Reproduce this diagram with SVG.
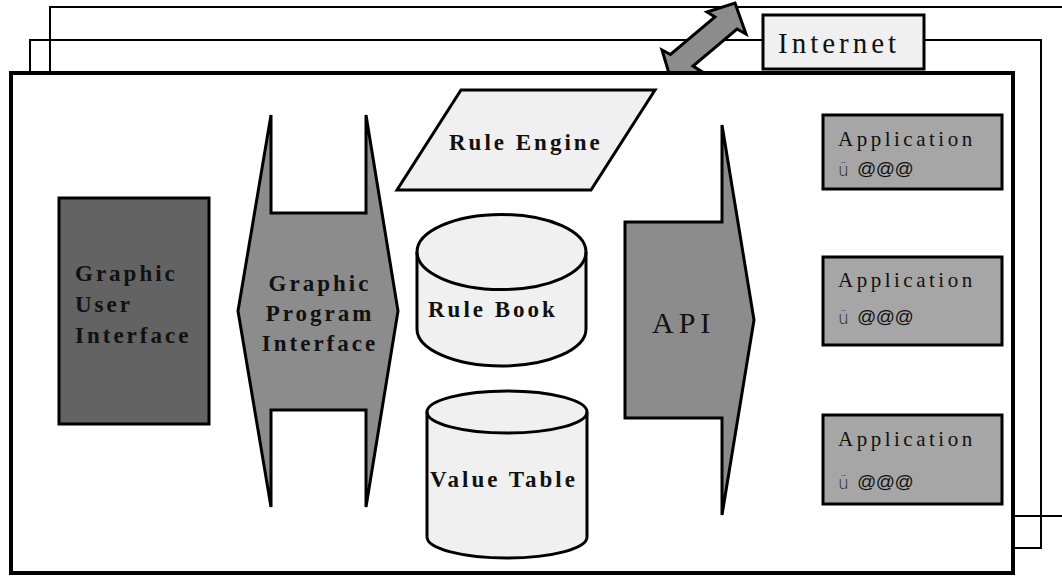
<svg xmlns="http://www.w3.org/2000/svg" width="1062" height="577" viewBox="0 0 1062 577">
<style>
.frame{fill:none;stroke:#000;stroke-width:2}
.front{fill:#fff;stroke:#000;stroke-width:4}
.dark{fill:#636363;stroke:#000;stroke-width:3}
.mid{fill:#8c8c8c;stroke:#000;stroke-width:3;stroke-linejoin:miter}
.light{fill:#f0f0f0;stroke:#000;stroke-width:3}
.app{fill:#a6a6a6;stroke:#000;stroke-width:3}
.b{font-family:"Liberation Serif","Times New Roman",serif;font-weight:bold;font-size:23px;letter-spacing:3px;fill:#111}
.r{font-family:"Liberation Serif","Times New Roman",serif;fill:#111}
.u{font-family:"DejaVu Sans","Liberation Sans",sans-serif;font-size:17px;font-weight:200;fill:#222}
.sym{font-family:"Liberation Sans",Arial,sans-serif;font-size:19px;letter-spacing:-0.5px;fill:#111}
</style>
<g id="frames">
<polyline class="frame" points="1062,7 50,7 50,516 1062,516"/>
<rect class="frame" x="30" y="40" width="1011" height="508"/>
</g>
<g id="internet-link">
<polygon class="mid" stroke-width="2" points="735,3 746,34 737,29 693,66 701,71 671,80 662,50 670.5,54.5 715,17 707,12"/>
</g>
<g id="internet">
<rect class="light" x="763" y="15" width="161" height="54"/>
<text class="r" x="778" y="53" font-size="29" letter-spacing="4">Internet</text>
</g>
<g id="system">
<rect class="front" x="11" y="73" width="1002" height="500"/>
</g>
<g id="gui">
<rect class="dark" x="59" y="198" width="150" height="226"/>
<text class="b" x="75" y="281">Graphic</text>
<text class="b" x="75" y="312">User</text>
<text class="b" x="75" y="343">Interface</text>
</g>
<g id="gpi">
<polygon class="mid" points="271,115 271,213 366,213 366,115 398,311 366,507 366,410 271,410 271,507 238,311"/>
<text class="b" x="320" y="291" text-anchor="middle">Graphic</text>
<text class="b" x="320" y="321" text-anchor="middle">Program</text>
<text class="b" x="320" y="351" text-anchor="middle">Interface</text>
</g>
<g id="rule-engine">
<polygon class="light" points="461,90 655,90 591,190 397,190"/>
<text class="b" x="449" y="150">Rule Engine</text>
</g>
<g id="rule-book">
<path class="light" fill="#f2f2f2" d="M417,252 A84.5,37.5 0 0 1 586,252 L586,329 A84.5,37 0 0 1 417,329 Z"/>
<path fill="none" stroke="#000" stroke-width="3" d="M417,252 A84.5,37.5 0 0 0 586,252"/>
<text class="b" x="428" y="317">Rule Book</text>
</g>
<g id="value-table">
<path class="light" fill="#f2f2f2" d="M427,412 A80,21 0 0 1 587,412 L587,537 A80,21 0 0 1 427,537 Z"/>
<path fill="none" stroke="#000" stroke-width="3" d="M427,412 A80,21 0 0 0 587,412"/>
<text class="b" x="430" y="487">Value Table</text>
</g>
<g id="api">
<polygon class="mid" points="625,222 722,222 722,125 754,320 722,515 722,418 625,418"/>
<text class="r" x="652" y="333" font-size="30" letter-spacing="5">API</text>
</g>
<g id="app1">
<rect class="app" x="823" y="115" width="179" height="74"/>
<text class="r" x="838" y="146" font-size="21" letter-spacing="3.5">Application</text>
<text class="u" x="838" y="176">ü</text>
<text class="sym" x="857" y="175">@@@</text>
</g>
<g id="app2">
<rect class="app" x="823" y="257" width="179" height="88"/>
<text class="r" x="838" y="287" font-size="21" letter-spacing="3.5">Application</text>
<text class="u" x="838" y="324">ü</text>
<text class="sym" x="857" y="323">@@@</text>
</g>
<g id="app3">
<rect class="app" x="823" y="415" width="179" height="89"/>
<text class="r" x="838" y="446" font-size="21" letter-spacing="3.5">Application</text>
<text class="u" x="838" y="489">ü</text>
<text class="sym" x="857" y="488">@@@</text>
</g>
</svg>
